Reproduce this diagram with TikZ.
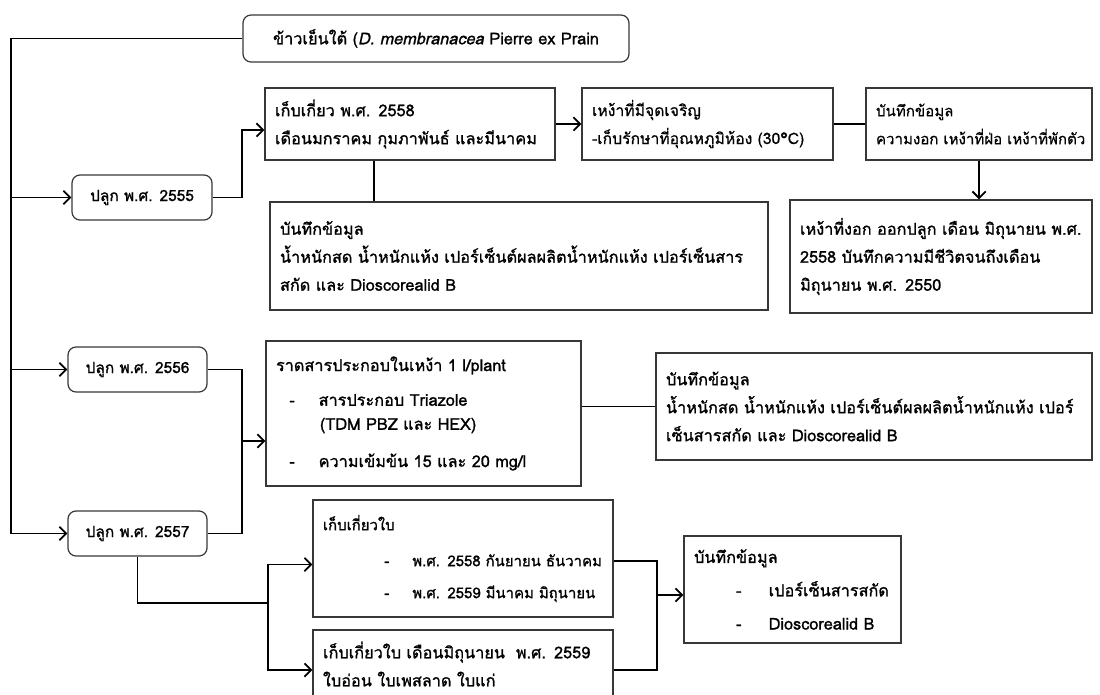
\documentclass[tikz,border=0pt]{standalone}
\usepackage{fontspec}
\usepackage{xcolor}
\usetikzlibrary{arrows.meta}
\newfontfamily\thaifont[Script=Thai, FakeBold=1.2]{Loma}
\newfontfamily\thainarrow[Script=Thai, FakeBold=0.6]{Loma}
\definecolor{boxgray}{RGB}{55,55,55}
\newcommand{\dashitem}[3]{\hspace*{#1}\makebox[#2][l]{-}\mbox{#3}}

\begin{document}
\begin{tikzpicture}[x=0.75pt,y=0.75pt,yscale=-1,xscale=1,
  every node/.style={font=\thaifont\fontsize{12.2}{21}\selectfont},
  box/.style={draw=boxgray, line width=0.9pt, align=left, inner xsep=7.5pt, inner ysep=0pt},
  rbox/.style={box, rounded corners=6pt, align=center},
  yearbox/.style={rbox, minimum height=33.75pt, font=\thaifont\fontsize{11.6}{21}\selectfont},
  slim/.style={font=\thainarrow\fontsize{11.8}{21}\selectfont},
  arr/.style={line width=1.4pt, -{Straight Barb[length=5pt,width=10pt]}},
  conn/.style={line width=1.4pt},
  link/.style={line width=1pt}]
\useasboundingbox (0,0) rectangle (1100,695);

%Rounded Rect [title]
\node[rbox, minimum width=289.5pt, minimum height=35.25pt] (title) at (436,38.5)
  {ข้าวเย็นใต้ (\textit{D. membranacea} Pierre ex Prain};

%Rounded Rect [planting years]
\node[yearbox, minimum width=105pt] (p55) at (142,197.5) {ปลูก พ.ศ. 2555};
\node[yearbox, minimum width=104.25pt] (p56) at (137.5,369.5) {ปลูก พ.ศ. 2556};
\node[yearbox, minimum width=104.25pt] (p57) at (137.5,533.5) {ปลูก พ.ศ. 2557};

%Shape: Rectangle [2555 branch]
\node[box, text width=202.5pt, minimum height=54pt] (harvest) at (410,124)
  {เก็บเกี่ยว พ.ศ. 2558\\ \mbox{เดือนมกราคม กุมภาพันธ์ และมีนาคม}};
\node[box, slim, text width=173.25pt, minimum height=54pt] (rhizome) at (707.5,124)
  {เหง้าที่มีจุดเจริญ\\ \mbox{-เก็บรักษาที่อุณหภูมิห้อง (30°C)}};
\node[box, slim, text width=154.5pt, minimum height=54pt,
      font=\thainarrow\fontsize{11.3}{21}\selectfont] (recA) at (979,124)
  {บันทึกข้อมูล\\ \mbox{ความงอก เหง้าที่ฝ่อ เหง้าที่พักตัว}};
\node[box, text width=211.5pt, minimum height=84.75pt] (sprout) at (941,256.5)
  {\mbox{เหง้าที่งอก ออกปลูก เดือน มิถุนายน พ.ศ.}\\ 2558 บันทึกความมีชีวิตจนถึงเดือน\\ มิถุนายน พ.ศ. 2550};
\node[box, text width=358.5pt, minimum height=81pt] (recB) at (519,256)
  {บันทึกข้อมูล\\ \mbox{น้ำหนักสด น้ำหนักแห้ง เปอร์เซ็นต์ผลผลิตน้ำหนักแห้ง เปอร์เซ็นสาร}\\ สกัด และ Dioscorealid B};

%Shape: Rectangle [2556 branch]
\node[box, text width=221.25pt, minimum height=108.75pt] (drench) at (423.5,413.5)
  {ราดสารประกอบในเหง้า 1 l/plant\\[5pt]
   \dashitem{10pt}{22pt}{สารประกอบ Triazole}\\[-3pt]
   \hspace*{33pt}(TDM PBZ และ HEX)\\[7pt]
   \dashitem{10pt}{22pt}{ความเข้มข้น 15 และ 20 mg/l}};
\node[box, text width=312pt, minimum height=80.25pt] (recC) at (874,406.5)
  {บันทึกข้อมูล\\ \mbox{น้ำหนักสด น้ำหนักแห้ง เปอร์เซ็นต์ผลผลิตน้ำหนักแห้ง เปอร์}\\ เซ็นสารสกัด และ Dioscorealid B};

%Shape: Rectangle [2557 branch]
\node[box, text width=210pt, minimum height=87.75pt,
      font=\thaifont\fontsize{11.2}{21}\selectfont] (leafA) at (463,558.5)
  {เก็บเกี่ยวใบ\\[6pt]
   \dashitem{46pt}{21pt}{พ.ศ. 2558 กันยายน ธันวาคม}\\[3pt]
   \dashitem{46pt}{21pt}{พ.ศ. 2559 มีนาคม มิถุนายน}};
\node[box, text width=210pt, minimum height=51pt] (leafB) at (463,664)
  {\mbox{เก็บเกี่ยวใบ เดือนมิถุนายน~ พ.ศ. 2559}\\ ใบอ่อน ใบเพสลาด ใบแก่};
\node[box, text width=147.75pt, minimum height=80.25pt] (recD) at (792.5,589.5)
  {บันทึกข้อมูล\\[4pt]
   \dashitem{31.5pt}{24.5pt}{เปอร์เซ็นสารสกัด}\\[4pt]
   \dashitem{31.5pt}{24.5pt}{Dioscorealid B}};

%Junctions
\coordinate (trunk) at (11,300);
\coordinate (busB) at (242,441);
\coordinate (busC) at (268,603);
\coordinate (busD) at (657,595);
\coordinate (hx) at (374,0);

%Straight Lines [trunk]
\draw[arr] (title.west) -| (trunk) |- (p57.west);
\draw[arr] (trunk |- p55.west) -- (p55.west);
\draw[arr] (trunk |- p56.west) -- (p56.west);

%Straight Lines [2555]
\draw[arr] (p55.east) -- ++(29,0) |- ([yshift=4.5pt]harvest.west);
\draw[arr] (harvest) -- (rhizome);
\draw[link] (rhizome) -- (recA);
\draw[arr] (recA.south) -- (recA.south |- sprout.north);
\draw[link] (harvest.south -| hx) -- (recB.north -| hx);

%Straight Lines [2556]
\draw[conn] (p56.east) -| (busB) |- (p57.east);
\draw[arr] (busB) -- (busB -| drench.west);
\draw[link] (recC.west -| drench.east) -- (recC.west);

%Straight Lines [2557]
\draw[conn] (p57.south) |- (busC);
\draw[arr] (busC) |- ([yshift=4.5pt]leafA.west);
\draw[arr] (busC) |- ([yshift=4.5pt]leafB.west);
\draw[conn] ([yshift=2pt]leafA.east) -| (busD) |- ([yshift=4.5pt]leafB.east);
\draw[arr] (busD) -- (busD -| recD.west);
\end{tikzpicture}
\end{document}
